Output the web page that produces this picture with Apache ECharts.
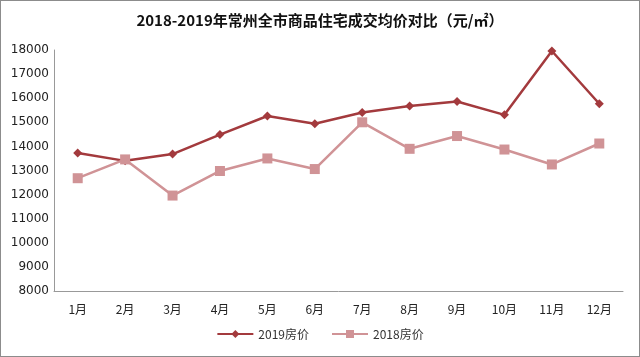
<!DOCTYPE html>
<html><head><meta charset="utf-8">
<script src="https://cdn.jsdelivr.net/npm/echarts@6/dist/echarts.min.js"></script>
<style>html,body{margin:0;padding:0;background:#fff}#c{width:640px;height:357px;box-sizing:border-box;border:1px solid #8c8c8c}</style>
</head><body><div id="c"></div>
<script>
const categories = ['1月','2月','3月','4月','5月','6月','7月','8月','9月','10月','11月','12月'];
const price2019 = [13730,13400,13680,14490,15260,14940,15410,15680,15860,15310,17960,15770];
const price2018 = [12680,13460,11960,12980,13500,13060,15000,13900,14430,13870,13250,14120];
const chart = echarts.init(document.getElementById('c'));
chart.setOption({
  animation:false,
  title:{text:'2018-2019年常州全市商品住宅成交均价对比（元/㎡）',left:'center',top:7,
    textStyle:{fontSize:15,fontWeight:'bold',color:'#111',fontFamily:'Noto Sans CJK SC'}},
  legend:{bottom:11,itemGap:22,itemWidth:36,itemHeight:10,
    textStyle:{fontSize:12,color:'#333',fontFamily:'Noto Sans CJK SC'},
    data:['2019房价','2018房价']},
  grid:{left:53,right:16,top:49,bottom:65},
  xAxis:{type:'category',data:categories,
    axisLine:{lineStyle:{color:'#999'}},axisTick:{show:false},
    axisLabel:{color:'#222',fontSize:12,margin:12,fontFamily:'Noto Sans CJK SC'}},
  yAxis:{type:'value',min:8000,max:18000,interval:1000,
    axisLine:{show:true,lineStyle:{color:'#999'}},axisTick:{show:false},splitLine:{show:false},
    axisLabel:{color:'#222',fontSize:12,margin:5,fontFamily:'DejaVu Sans',formatter:v=>String(v)}},
  series:[
    {name:'2019房价',type:'line',data:price2019,symbol:'diamond',symbolSize:9,
     lineStyle:{color:'#a33a3d',width:2.5},itemStyle:{color:'#a33a3d'}},
    {name:'2018房价',type:'line',data:price2018,symbol:'rect',symbolSize:10,
     lineStyle:{color:'#d09396',width:2.5},itemStyle:{color:'#d09396'}}
  ]
});
</script></body></html>
